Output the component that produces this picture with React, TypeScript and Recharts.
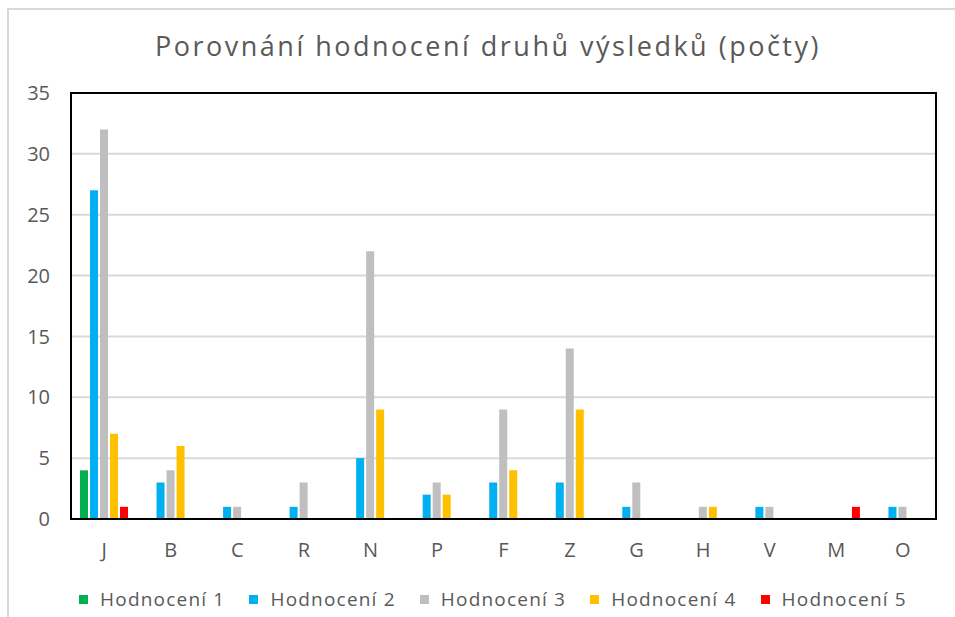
import React from 'react';
import { BarChart, Bar, XAxis, YAxis, CartesianGrid, Legend, ReferenceArea } from 'recharts';

const categories = ['J', 'B', 'C', 'R', 'N', 'P', 'F', 'Z', 'G', 'H', 'V', 'M', 'O'];
const hodnoceni1 = [4, 0, 0, 0, 0, 0, 0, 0, 0, 0, 0, 0, 0];
const hodnoceni2 = [27, 3, 1, 1, 5, 2, 3, 3, 1, 0, 1, 0, 1];
const hodnoceni3 = [32, 4, 1, 3, 22, 3, 9, 14, 3, 1, 1, 0, 1];
const hodnoceni4 = [7, 6, 0, 0, 9, 2, 4, 9, 0, 1, 0, 0, 0];
const hodnoceni5 = [1, 0, 0, 0, 0, 0, 0, 0, 0, 0, 0, 1, 0];
const seriesNames = ['Hodnocení 1', 'Hodnocení 2', 'Hodnocení 3', 'Hodnocení 4', 'Hodnocení 5'];
const seriesValues = [hodnoceni1, hodnoceni2, hodnoceni3, hodnoceni4, hodnoceni5];
const colors = ['#00b050', '#00b0f0', '#bfbfbf', '#ffc000', '#ff0000'];
const yTicks = [0, 5, 10, 15, 20, 25, 30, 35];
const title = 'Porovnání hodnocení druhů výsledků (počty)';

const data = categories.map((cat, i) => {
  const row: Record<string, string | number> = { cat };
  seriesNames.forEach((name, s) => {
    row[name] = seriesValues[s][i];
  });
  return row;
});

const FONT = "'Open Sans', 'Liberation Sans', sans-serif";
const TEXT = '#595959';

const LegendContent = () => (
  <div
    style={{
      display: 'flex',
      justifyContent: 'center',
      alignItems: 'center',
      paddingLeft: 31,
      height: 30,
      fontFamily: FONT,
      fontSize: 19,
      letterSpacing: 1.2,
      color: TEXT,
      boxSizing: 'border-box',
    }}
  >
    {seriesNames.map((name, i) => (
      <div key={name} style={{ display: 'flex', alignItems: 'center', margin: '0 12px' }}>
        <div style={{ width: 9, height: 9, background: colors[i], marginRight: 12 }} />
        <span>{name}</span>
      </div>
    ))}
  </div>
);

export default function App() {
  return (
    <div style={{ position: 'absolute', left: 0, top: 0, width: 955, height: 617, background: '#fff', overflow: 'hidden' }}>
      <div
        style={{
          position: 'absolute',
          left: 7,
          top: 8,
          width: 960,
          height: 620,
          borderLeft: '2px solid #d9d9d9',
          borderTop: '2px solid #d9d9d9',
          pointerEvents: 'none',
        }}
      />
      <div
        style={{
          position: 'absolute',
          left: 0,
          top: 26,
          width: 955,
          paddingLeft: 21,
          boxSizing: 'border-box',
          textAlign: 'center',
          fontFamily: FONT,
          fontSize: 27,
          letterSpacing: 2.5,
          color: TEXT,
          lineHeight: '40px',
          whiteSpace: 'nowrap',
        }}
      >
        {title}
      </div>
      <BarChart
        width={955}
        height={617}
        data={data}
        margin={{ top: 93, right: 19, bottom: 28, left: 0 }}
        barCategoryGap={9}
        barGap={2}
      >
        <CartesianGrid horizontal vertical={false} stroke="#d9d9d9" strokeWidth={2} />
        <ReferenceArea
          y1={0}
          y2={35}
          fill="none"
          fillOpacity={0}
          stroke="#000"
          strokeWidth={2}
          ifOverflow="visible"
        />
        <XAxis
          dataKey="cat"
          height={40}
          tickLine={false}
          tickSize={8}
          tickMargin={16}
          axisLine={{ stroke: '#000', strokeWidth: 2 }}
          tick={{ fill: TEXT, fontSize: 20, fontFamily: FONT }}
          interval={0}
        />
        <YAxis
          width={71}
          domain={[0, 35]}
          ticks={yTicks}
          tickLine={false}
          tickSize={8}
          tickMargin={13}
          axisLine={{ stroke: '#000', strokeWidth: 2 }}
          tick={{ fill: TEXT, fontSize: 20, fontFamily: FONT }}
          interval={0}
        />
        <Legend
          verticalAlign="bottom"
          height={30}
          content={<LegendContent />}
          wrapperStyle={{ left: 0, width: 955, top: 584, bottom: 'auto' }}
        />
        {seriesNames.map((name, i) => (
          <Bar key={name} dataKey={name} fill={colors[i]} isAnimationActive={false} />
        ))}
      </BarChart>
    </div>
  );
}
